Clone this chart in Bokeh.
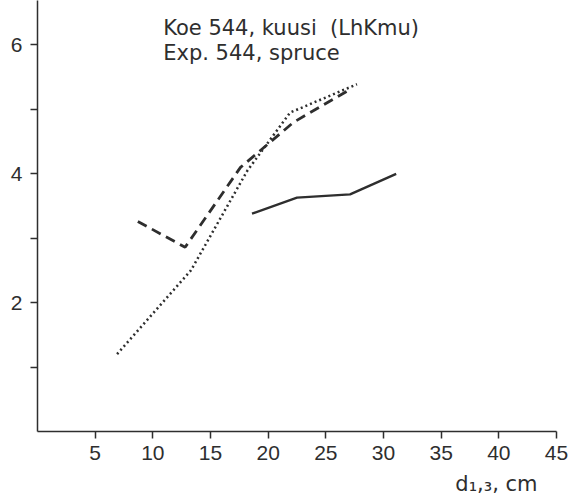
from bokeh.plotting import figure
from bokeh.models import FixedTicker, Range1d, Label, Title
from bokeh.embed import file_html
from bokeh.resources import INLINE

# Data
solid_x = [18.6, 22.5, 27.1, 31.1]
solid_y = [3.38, 3.63, 3.68, 4.00]
dashed_x = [8.7, 12.8, 17.6, 22.2, 27.1]
dashed_y = [3.26, 2.86, 4.10, 4.80, 5.31]
dotted_x = [6.9, 13.3, 18.2, 21.9, 27.7]
dotted_y = [1.20, 2.50, 4.05, 4.95, 5.39]
x_ticks = [5, 10, 15, 20, 25, 30, 35, 40, 45]
y_ticks = [2, 4, 6]
y_minor = [1, 3, 5]
title_lines = ["Koe 544, kuusi\u00a0 (LhKmu)", "Exp. 544, spruce"]
x_label = "d\u2081,\u2083, cm"

FONT = "Liberation Sans"
TFONT = "DejaVu Sans"
INK = "#2e2e2e"

p = figure(width=579, height=503, output_backend="svg", toolbar_location=None,
           x_range=Range1d(0, 45), y_range=Range1d(0, 6.69),
           min_border_left=37, min_border_right=23, min_border_top=0, min_border_bottom=10)
p.outline_line_color = None
p.xgrid.visible = False
p.ygrid.visible = False
p.background_fill_color = "white"
p.border_fill_color = "white"

p.xaxis.ticker = FixedTicker(ticks=x_ticks)
p.yaxis.ticker = FixedTicker(ticks=y_ticks, minor_ticks=y_minor)
for ax in (p.xaxis, p.yaxis):
    ax.axis_line_color = INK
    ax.axis_line_width = 1.5
    ax.major_tick_line_color = INK
    ax.major_tick_line_width = 1.5
    ax.major_tick_in = 0
    ax.major_tick_out = 7
    ax.minor_tick_line_color = INK
    ax.minor_tick_line_width = 1.5
    ax.minor_tick_in = 0
    ax.minor_tick_out = 7
    ax.major_label_text_font = FONT
    ax.major_label_text_font_size = "21px"
    ax.major_label_text_color = INK
p.xaxis.minor_tick_line_color = None
p.xaxis.major_label_standoff = 7
p.yaxis.major_label_standoff = 8

p.line(solid_x, solid_y, line_color=INK, line_width=2.4)
p.line(dashed_x, dashed_y, line_color=INK, line_width=2.8, line_dash="10 6")
p.line(dotted_x, dotted_y, line_color=INK, line_width=2.5, line_dash="2 3")

for i, t in enumerate(title_lines):
    p.add_layout(Label(x=10.9, y=6.26, y_offset=-25 * i, text=t, text_font=TFONT,
                       text_font_size="21px", text_color=INK, text_baseline="alphabetic"))

xt = Title(text=x_label, align="right", offset=19, text_font=TFONT,
           text_font_size="21px", text_font_style="normal", text_color=INK, standoff=15)
p.add_layout(xt, "below")

open("out.html", "w").write(file_html(p, INLINE))
